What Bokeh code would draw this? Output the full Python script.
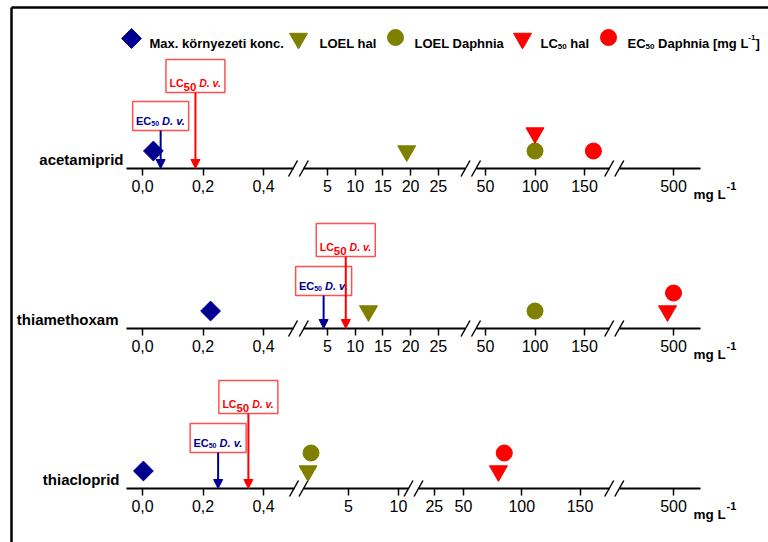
import numpy as np
from bokeh.core.properties import value
from bokeh.embed import file_html
from bokeh.models import (Arrow, CustomJSTickFormatter, FixedTicker, LinearAxis,
                          NormalHead, Range1d)
from bokeh.plotting import figure
from bokeh.resources import INLINE

# ---------------- data (mg L-1) ----------------
compounds = ["acetamiprid", "thiamethoxam", "thiacloprid"]
max_env_conc = [0.036, 0.225, 0.003]   # Max. környezeti konc.
ec50_dv = [0.06, 4.3, 0.25]            # EC50 D. v.
lc50_dv = [0.175, 8.3, 0.35]           # LC50 D. v.
loel_fish = [19.3, 12.4, 0.95]         # LOEL hal
loel_daphnia = [100, 100, 1.25]        # LOEL Daphnia
lc50_fish = [100, 494, 80]             # LC50 hal
ec50_daphnia = [159, 500, 85]          # EC50 Daphnia

axis_ticks = [
    [[0.0, 0.2, 0.4], [5, 10, 15, 20, 25], [50, 100, 150], [500]],
    [[0.0, 0.2, 0.4], [5, 10, 15, 20, 25], [50, 100, 150], [500]],
    [[0.0, 0.2, 0.4], [5, 10], [25, 50, 100, 150], [500]],
]

# ---------------- layout / style ----------------
W, H = 768, 542
FONT = "Liberation Sans"
NAVY = "#000090"
OLIVE = "#808000"
RED = "#ff0000"
BOX = "#ff5050"

AXIS_Y = [168, 328, 488]           # vertical position of each panel's axis
# each broken-axis piece: pixel = origin + value * px_per_unit
scales = [
    [(142, 302.5), (299.3, 5.54), (435.5, 0.99), (173, 1.0)],
    [(142, 302.5), (299.3, 5.54), (435.5, 0.99), (173, 1.0)],
    [(142, 302.5), (298.0, 10.0), (404.75, 1.165), (173, 1.0)],
]
# pixel extent of every piece (between the break marks)
extents = [
    [(126, 292.5), (303.3, 465), (475.5, 608.7), (618.8, 700)],
    [(126, 292.5), (303.3, 465), (475.5, 608.7), (618.8, 700)],
    [(126, 293.5), (303, 408), (418, 608.7), (618.8, 700)],
]
name_right = [123, 118, 119]
ec_box_bottom = [38, 33, 36]
lc_box_bottom = [76, 72, 75]
ROW_Y = [17.5, 35.5]

# Arial-metric advance widths (bold), per 1000 em
ADV = {" ": 278, ".": 278, ",": 278, "[": 333, "]": 333, "-": 333,
       "A": 722, "C": 722, "D": 722, "E": 667, "L": 611, "M": 833, "O": 778,
       "a": 556, "c": 556, "d": 611, "e": 556, "g": 611, "h": 611, "i": 278,
       "k": 556, "l": 278, "m": 889, "n": 611, "o": 611, "p": 611, "r": 389,
       "t": 333, "v": 556, "x": 556, "y": 556, "z": 500, "ö": 611}


def tw(s, size):
    return sum(ADV.get(ch, 556) for ch in s) / 1000.0 * size


def rich(p, x, y, parts, color, center=False, **kw):
    """Draw a run of text pieces: (text, size_px, y_shift_px (down +), italic)."""
    total = sum(tw(t, s) for t, s, _, _ in parts)
    off = -total / 2 if center else 0.0
    for t, s, dy, it in parts:
        lead = len(t) - len(t.lstrip(" "))
        off_t = off + tw(" " * lead, s)
        p.text(x=[x], y=[y], text=[t.strip(" ")], x_offset=off_t, y_offset=dy,
               text_font=value(FONT), text_font_size=f"{s}px",
               text_font_style="bold italic" if it else "bold",
               text_color=color, text_align="left", text_baseline="alphabetic", **kw)
        off += tw(t, s)


p = figure(width=W, height=H, x_range=Range1d(0, W), y_range=Range1d(H, 0), title=None,
           output_backend="svg", toolbar_location=None,
           x_axis_location=None, y_axis_location=None,
           min_border=0, min_border_top=0, min_border_bottom=0,
           min_border_left=0, min_border_right=0,
           outline_line_color=None, background_fill_color="white",
           border_fill_color="white")
p.xgrid.grid_line_color = None
p.ygrid.grid_line_color = None

# frame lines (top and left)
p.segment(x0=[11, 11], y0=[7, 7], x1=[W + 5, 11], y1=[7, H + 5], line_color="black", line_width=2.5)

# ---------------- legend strip ----------------
p.scatter(x=[131], y=[38], marker="square", size=14, angle=np.pi / 4, color=NAVY)
p.scatter(x=[298], y=[38], marker="inverted_triangle", size=18, color=OLIVE)
p.scatter(x=[395], y=[37], marker="circle", size=16, color=OLIVE)
p.scatter(x=[522], y=[38], marker="inverted_triangle", size=18, color=RED)
p.scatter(x=[608], y=[37], marker="circle", size=16, color=RED)
LB = 43
rich(p, 149, LB, [("Max. környezeti konc.", 13, 0, False)], "black")
rich(p, 319, LB, [("LOEL hal", 13, 0, False)], "black")
rich(p, 414, LB, [("LOEL Daphnia", 13, 0, False)], "black")
rich(p, 540, LB, [("LC", 13, 0, False), ("50", 8, 3, False), (" hal", 13, 0, False)], "black")
rich(p, 627, LB, [("EC", 13, 0, False), ("50", 8, 3, False), (" Daphnia [mg L", 13, 0, False),
                  ("-1", 8, -6, False), ("]", 13, 0, False)], "black")

# ---------------- panels ----------------
series = [
    (max_env_conc, "square", 14, NAVY, np.pi / 4, [0, 0, 0]),
    (loel_fish, "inverted_triangle", 18, OLIVE, 0.0, [0, 0, 0]),
    (loel_daphnia, "circle", 16, OLIVE, 0.0, [0, 0, 1]),
    (lc50_fish, "inverted_triangle", 18, RED, 0.0, [1, 0, 0]),
    (ec50_daphnia, "circle", 16, RED, 0.0, [0, 1, 1]),
]

extra = {}
for i in range(len(compounds)):
    for k, (org, ppu) in enumerate(scales[i]):
        extra[f"p{i}s{k}"] = Range1d(start=(0 - org) / ppu, end=(W - org) / ppu)
p.extra_x_ranges = extra

for i, name in enumerate(compounds):
    ay = AXIS_Y[i]

    def seg_of(v):
        for k, ((org, ppu), (lo, hi)) in enumerate(zip(scales[i], extents[i])):
            if (lo - org) / ppu <= v <= (hi - org) / ppu:
                return f"p{i}s{k}"
        return f"p{i}s0"

    # broken axis: one axis per piece
    for k, ((org, ppu), (lo, hi)) in enumerate(zip(scales[i], extents[i])):
        ax = LinearAxis(x_range_name=f"p{i}s{k}", fixed_location=ay,
                        bounds=((lo - org) / ppu, (hi - org) / ppu),
                        ticker=FixedTicker(ticks=axis_ticks[i][k], minor_ticks=[]),
                        axis_line_width=2, axis_line_color="black",
                        major_tick_in=0, major_tick_out=7, major_tick_line_width=1.5,
                        minor_tick_in=0, minor_tick_out=0, major_label_standoff=4,
                        major_label_text_font=FONT, major_label_text_font_size="16px",
                        major_label_text_color="black")
        if k == 0:
            ax.formatter = CustomJSTickFormatter(code="return tick.toFixed(1).replace('.', ',');")
        p.add_layout(ax, "below")

    # break marks
    for (lo, hi), (lo2, hi2) in zip(extents[i][:-1], extents[i][1:]):
        for m in (hi, lo2):
            p.segment(x0=[m - 4.5], y0=[ay + 8], x1=[m + 4.5], y1=[ay - 8],
                      line_color="black", line_width=1.5)

    # compound name
    p.text(x=[name_right[i]], y=[ay - 9], text=[name], text_font=value(FONT),
           text_font_size="15px", text_font_style="bold", text_align="right",
           text_baseline="middle", text_color="black")

    # unit at the end of the axis
    p.text(x=[693], y=[ay + 26], text=["mg L"], text_font=value(FONT), text_font_size="13.5px",
           text_font_style="bold", text_align="left", text_baseline="alphabetic", text_color="black")
    p.text(x=[726], y=[ay + 17], text=["-1"], text_font=value(FONT), text_font_size="11px",
           text_font_style="bold", text_align="left", text_baseline="alphabetic", text_color="black")

    # Daphnia EC50 / LC50 call-outs
    for vals, col, bottom, bh, bw, parts in [
        (ec50_dv, NAVY, ec_box_bottom[i], 29, 56,
         [("EC", 11, 0, False), ("50", 7, 3, False), (" D. v.", 11, 0, True)]),
        (lc50_dv, RED, lc_box_bottom[i], 33, 59,
         [("LC", 10.5, 0, False), ("50", 11.5, 4, False), (" D. v.", 10.5, 0, True)]),
    ]:
        v = vals[i]
        s = seg_of(v)
        p.add_layout(Arrow(x_start=v, y_start=ay - bottom, x_end=v, y_end=ay, x_range_name=s,
                           line_color=col, line_width=2,
                           end=NormalHead(size=9, fill_color=col, line_color=col)))
        p.rect(x=[v], y=[ay - bottom - bh / 2], width=bw, height=bh, width_units="screen",
               height_units="screen", x_range_name=s, fill_color="white",
               line_color=BOX, line_width=1.5)
        rich(p, v, ay - bottom - 10, parts, col, center=True, x_range_name=s)

    # markers
    for vals, marker, size, col, ang, rows in series:
        v = vals[i]
        p.scatter(x=[v], y=[ay - ROW_Y[rows[i]]], marker=marker, size=size, angle=ang,
                  color=col, x_range_name=seg_of(v))

open("out.html", "w").write(file_html(p, INLINE))
